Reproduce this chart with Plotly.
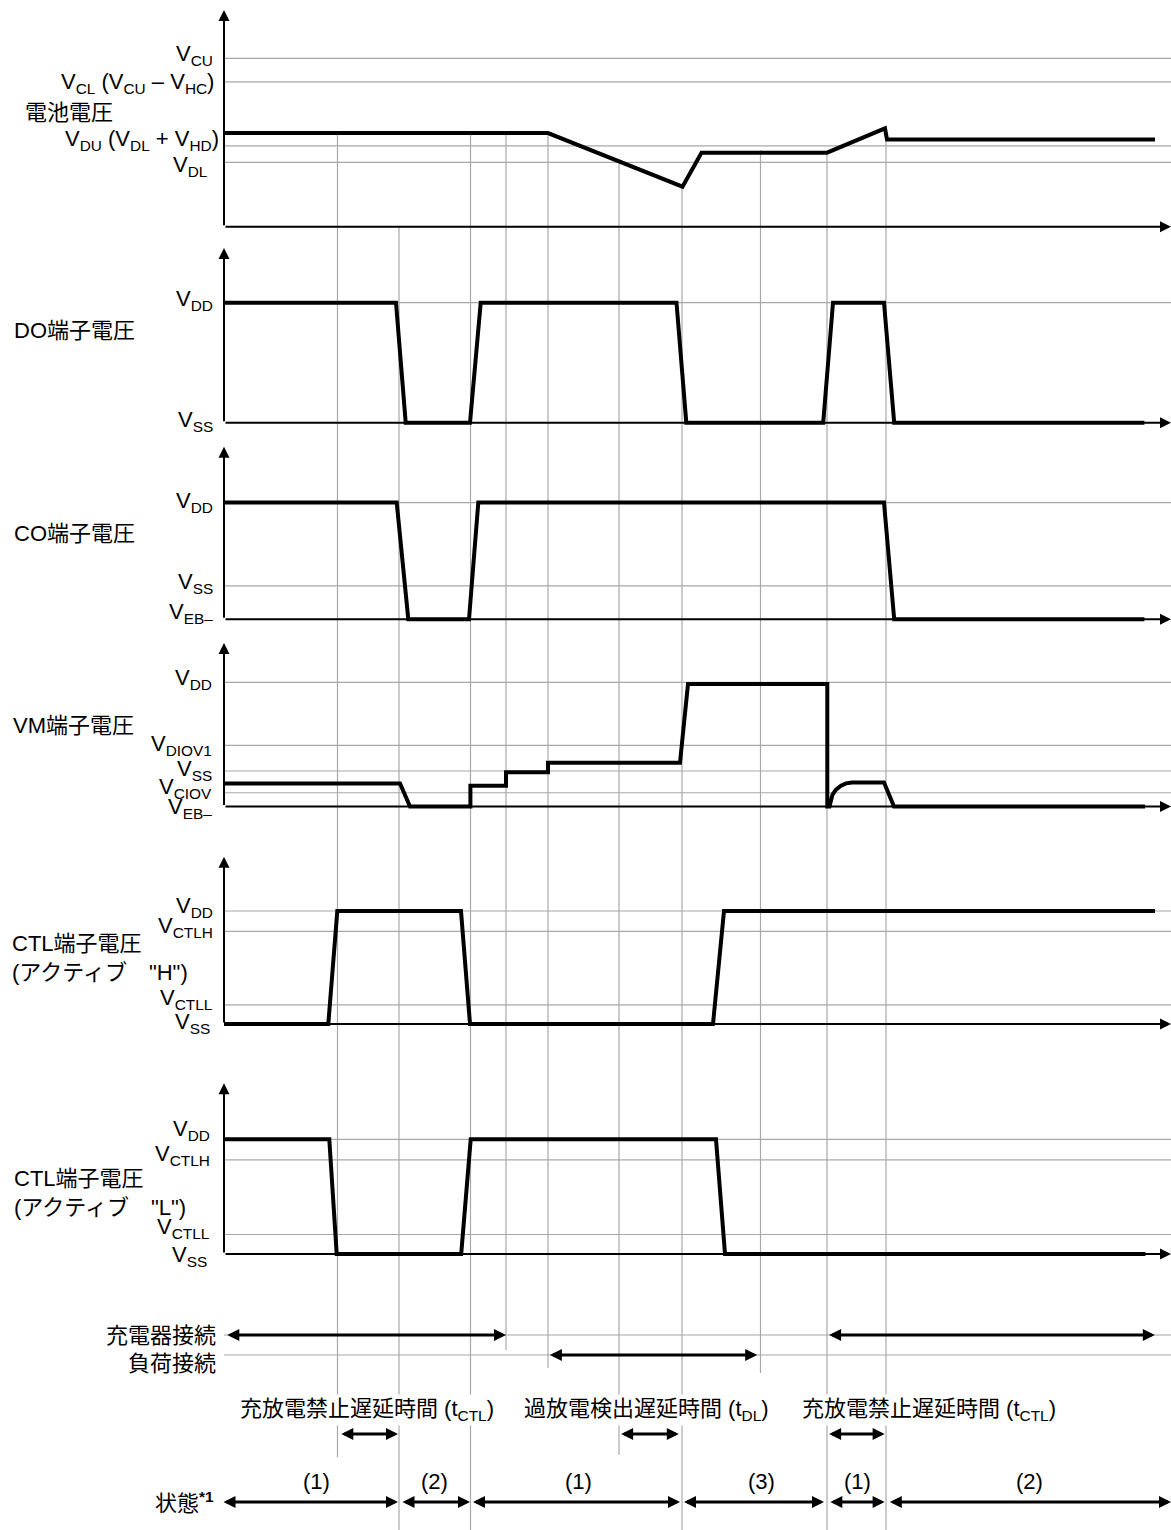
import plotly.graph_objects as go

W, H = 1171, 1530

# ---------------- data (time t = 0 at the vertical axes) ----------------
t_end = 947
grid_t = [113.5, 175, 246.5, 282, 324, 395, 458, 536.5, 603, 662]

# battery voltage (arbitrary voltage units)
batt_t = [0, 324, 458.5, 477.5, 603, 661, 663, 931]
batt_v = [2.34, 2.34, 1.0, 1.85, 1.85, 2.46, 2.18, 2.18]
batt_levels = [4.21, 3.62, 2.02, 1.61]
batt_labels = ["V<sub>CU</sub>",
               "V<sub>CL</sub> (V<sub>CU</sub> – V<sub>HC</sub>)",
               "V<sub>DU</sub> (V<sub>DL</sub> + V<sub>HD</sub>)",
               "V<sub>DL</sub>"]

# DO pin (V_SS = 0, V_DD = 1)
do_t = [0, 172, 181.7, 246, 256.7, 452.5, 462.3, 599.2, 609, 660, 670.2, 920.4]
do_v = [1, 1, 0, 0, 1, 1, 0, 0, 1, 1, 0, 0]
do_levels = [1.0]
do_labels = ["V<sub>DD</sub>", "V<sub>SS</sub>"]

# CO pin (V_EB- = -0.4)
co_t = [0, 172.7, 184.3, 245, 254.3, 660, 670.2, 920.4]
co_v = [1, 1, -0.4, -0.4, 1, 1, -0.4, -0.4]
co_levels = [1.0, 0.0]
co_labels = ["V<sub>DD</sub>", "V<sub>SS</sub>", "V<sub>EB–</sub>"]

# VM pin
vm_t = [0, 176, 186, 246.4, 246.4, 282, 282, 324, 324, 456, 464, 603.3, 603.3,
        605.5, 608.5, 612, 617, 622, 628, 660, 670, 921]
vm_v = [-0.14, -0.14, -0.4, -0.4, -0.166, -0.166, -0.015, -0.015, 0.094, 0.094,
        0.98, 0.98, -0.4, -0.4, -0.265, -0.21, -0.166, -0.139, -0.13, -0.13, -0.4, -0.4]
vm_levels = [1.0, 0.29, 0.0, -0.245]
vm_labels = ["V<sub>DD</sub>", "V<sub>DIOV1</sub>", "V<sub>SS</sub>",
             "V<sub>CIOV</sub>", "V<sub>EB–</sub>"]

# CTL pin, active "H"
ctlh_t = [0, 104.3, 113.3, 237, 246, 489, 500, 931]
ctlh_v = [0, 0, 1, 1, 0, 0, 1, 1]
# CTL pin, active "L"
ctll_t = [0, 105.3, 112.7, 237.2, 246.7, 492, 501, 921.4]
ctll_v = [1, 1, 0, 0, 1, 1, 0, 0]
ctl_levels = [1.0, 0.82, 0.17]
ctl_labels = ["V<sub>DD</sub>", "V<sub>CTLH</sub>", "V<sub>CTLL</sub>", "V<sub>SS</sub>"]

panel_names = ["電池電圧", "DO端子電圧", "CO端子電圧", "VM端子電圧",
               "CTL端子電圧", "(アクティブ\u3000\"H\")", "CTL端子電圧", "(アクティブ\u3000\"L\")"]

# bottom rows
charger_spans = [(1.8, 282), (603.6, 930.8)]
load_spans = [(324.4, 533.2)]
delay_spans = [(115.8, 174), (395.6, 454.8), (603.6, 660.6)]
delay_texts = ["充放電禁止遅延時間 (t<sub>CTL</sub>)", "過放電検出遅延時間 (t<sub>DL</sub>)",
               "充放電禁止遅延時間 (t<sub>CTL</sub>)"]
delay_text_t = [142.5, 422, 705]
state_spans = [(-2, 174), (177, 246), (247.5, 456), (458.5, 600), (604.8, 660.6), (664.3, 947)]
state_labels = ["(1)", "(2)", "(1)", "(3)", "(1)", "(2)"]
state_label_t = [92.5, 210.4, 354, 537, 633, 805]
row_labels = ["充電器接続", "負荷接続", "状態<b><sup>*1</sup></b>"]

# ---------------- layout helpers ----------------
FONT = "Arial, 'Liberation Sans', 'Noto Sans CJK JP', sans-serif"
GRID = "#a8a8a8"


def pp(px):
    return 1 - px / H


# panel geometry: baseline px, arrow tip px, px per unit, baseline level
geom = [
    dict(base=226.7, top=10, unit=40.0, L0=0.0),
    dict(base=422.7, top=248, unit=120.0, L0=0.0),
    dict(base=619.3, top=446.7, unit=83.4, L0=-0.4),
    dict(base=806.5, top=643, unit=88.7, L0=-0.4),
    dict(base=1024, top=856.7, unit=113.0, L0=0.0),
    dict(base=1254, top=1083.3, unit=114.7, L0=0.0),
]
series = [(batt_t, batt_v), (do_t, do_v), (co_t, co_v), (vm_t, vm_v),
          (ctlh_t, ctlh_v), (ctll_t, ctll_v)]
levels = [batt_levels, do_levels, co_levels, vm_levels, ctl_levels, ctl_levels]

fig = go.Figure()
layout = dict(
    width=W, height=H, margin=dict(l=0, r=0, t=0, b=0),
    paper_bgcolor="white", plot_bgcolor="white", showlegend=False,
    font=dict(family=FONT, size=22, color="black"),
    xaxis=dict(domain=[0, 1], range=[-224, W - 224], visible=False, fixedrange=True),
)
shapes = []
ann = []
pad = 8
for i, g in enumerate(geom):
    name = "yaxis" if i == 0 else f"yaxis{i+1}"
    ref = "y" if i == 0 else f"y{i+1}"
    layout[name] = dict(
        domain=[pp(g["base"] + pad), pp(g["top"] - pad)],
        range=[g["L0"] - pad / g["unit"], g["L0"] + (g["base"] - g["top"] + pad) / g["unit"]],
        visible=False, anchor="x", fixedrange=True)
    top_level = g["L0"] + (g["base"] - g["top"]) / g["unit"]
    for lv in levels[i]:
        shapes.append(dict(type="line", xref="x", yref=ref, x0=0, x1=t_end, y0=lv, y1=lv,
                           line=dict(color=GRID, width=1.2), layer="below"))
    t, v = series[i]
    fig.add_trace(go.Scatter(x=t, y=v, xaxis="x", yaxis=ref, mode="lines",
                             line=dict(color="black", width=4), hoverinfo="skip"))
    # axes with arrows
    ann.append(dict(x=0, y=top_level, xref="x", yref=ref, ax=0, ay=g["L0"], axref="x",
                    ayref=ref, text="", showarrow=True, arrowhead=2, arrowsize=1.1,
                    arrowwidth=2, arrowcolor="black"))
    ann.append(dict(x=t_end, y=g["L0"], xref="x", yref=ref, ax=0, ay=g["L0"], axref="x",
                    ayref=ref, text="", showarrow=True, arrowhead=2, arrowsize=1.1,
                    arrowwidth=2, arrowcolor="black"))

# vertical grid lines (top px, bottom px)
vext = [(135, 1457), (227, 1530), (135, 1530), (135, 1350), (133, 1368),
        (160, 1455), (186, 1530), (150, 1373), (153, 1530), (130, 1530)]
for tg, (a, b) in zip(grid_t, vext):
    shapes.append(dict(type="line", xref="x", yref="paper", x0=tg, x1=tg, y0=pp(b), y1=pp(a),
                       line=dict(color=GRID, width=1.2), layer="below"))
# bottom horizontal guide lines
for ypx in (1335, 1355):
    shapes.append(dict(type="line", xref="x", yref="paper", x0=0, x1=t_end, y0=pp(ypx), y1=pp(ypx),
                       line=dict(color=GRID, width=1.2), layer="below"))


def label(text, xpx, ypx, anchor="right", size=22, **kw):
    d = dict(text=text, x=xpx / W, y=pp(ypx), xref="paper", yref="paper", showarrow=False,
             xanchor=anchor, yanchor="middle", font=dict(size=size))
    d.update(kw)
    ann.append(d)


# level labels (right edge px, centre px)
lvl_pos = [
    (batt_labels, [(215, 55), (216, 83), (221, 140), (210, 166)]),
    (do_labels, [(215, 300), (215, 421)]),
    (co_labels, [(215, 502), (215, 583), (215, 613)]),
    (vm_labels, [(214, 679), (214, 745), (214, 770), (214, 788), (214, 808)]),
    (ctl_labels, [(215, 907), (215, 927), (215, 999), (212, 1023)]),
    (ctl_labels, [(212, 1130), (212, 1155), (212, 1228), (209, 1256)]),
]
for labs, pos in lvl_pos:
    for s, (xp, yp) in zip(labs, pos):
        label(s, xp, yp)

name_pos = [(23, 113), (12, 330), (12, 533), (11, 725), (10, 943), (10, 972), (12, 1178), (12, 1207)]
for s, (xp, yp) in zip(panel_names, name_pos):
    label(s, xp, yp, anchor="left")

# bottom rows
label(row_labels[0], 218, 1335)
label(row_labels[1], 218, 1363)
label(row_labels[2], 216, 1502)


def darrow(t0, t1, ypx):
    ann.append(dict(x=t1, y=pp(ypx), xref="x", yref="paper", ax=t0, ay=0, axref="x",
                    ayref="pixel", text="", showarrow=True, arrowside="end+start",
                    arrowhead=2, startarrowhead=2, arrowsize=0.8, startarrowsize=0.8,
                    arrowwidth=3, arrowcolor="black"))


for a, b in charger_spans:
    darrow(a, b, 1335)
for a, b in load_spans:
    darrow(a, b, 1355)
for a, b in delay_spans:
    darrow(a, b, 1434)
for a, b in state_spans:
    darrow(a, b, 1502)
for s, tt in zip(delay_texts, delay_text_t):
    ann.append(dict(text=s, x=tt, y=pp(1410), xref="x", yref="paper", showarrow=False,
                    xanchor="center", yanchor="middle", bgcolor="white"))
for s, tt in zip(state_labels, state_label_t):
    ann.append(dict(text=s, x=tt, y=pp(1481), xref="x", yref="paper", showarrow=False,
                    xanchor="center", yanchor="middle"))

layout["shapes"] = shapes
layout["annotations"] = ann
fig.update_layout(**layout)
fig.write_html("out.html", config={"displayModeBar": False},
               post_script="document.body.style.margin='0';document.body.style.overflow='hidden';")
